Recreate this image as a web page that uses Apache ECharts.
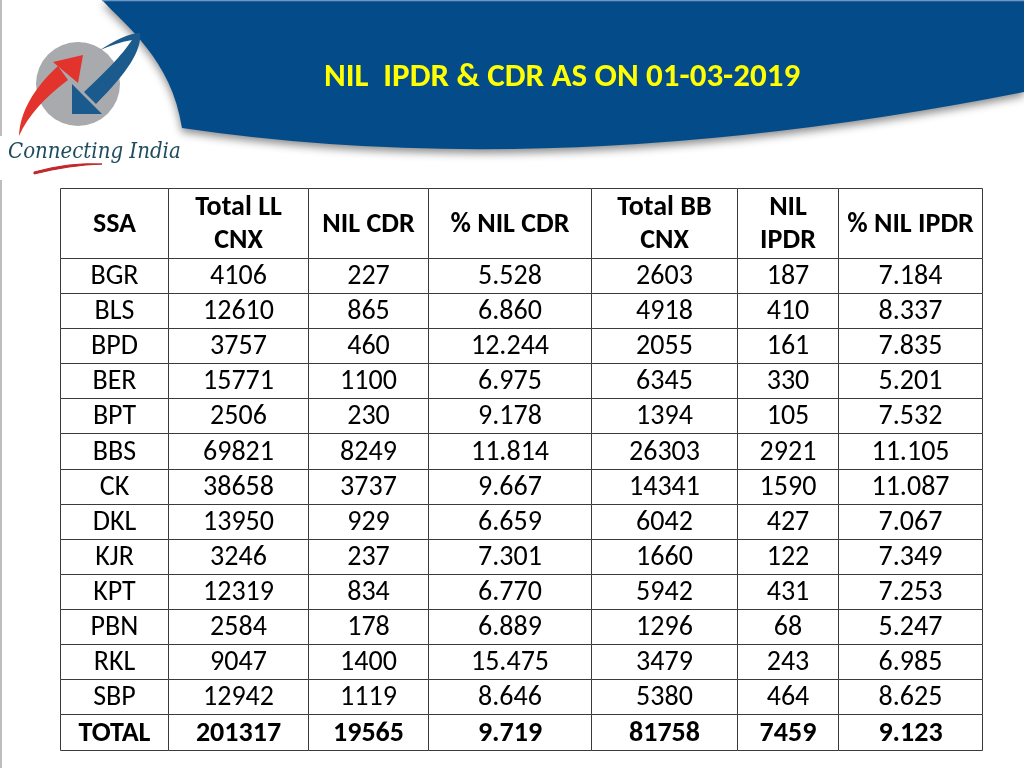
<!DOCTYPE html>
<html>
<head>
<meta charset="utf-8">
<script src="https://cdn.jsdelivr.net/npm/echarts@6/dist/echarts.min.js"></script>
<style>
html,body{margin:0;padding:0;background:#fff;}
#main{width:1024px;height:768px;}
</style>
</head>
<body>
<div id="main"></div>
<script>
// ---- data ----
const headers = ['SSA', 'Total LL\nCNX', 'NIL CDR', '% NIL CDR', 'Total BB\nCNX', 'NIL\nIPDR', '% NIL IPDR'];
const ssa = ['BGR','BLS','BPD','BER','BPT','BBS','CK','DKL','KJR','KPT','PBN','RKL','SBP','TOTAL'];
const totalLL = [4106,12610,3757,15771,2506,69821,38658,13950,3246,12319,2584,9047,12942,201317];
const nilCDR = [227,865,460,1100,230,8249,3737,929,237,834,178,1400,1119,19565];
const pctNilCDR = [5.528,6.860,12.244,6.975,9.178,11.814,9.667,6.659,7.301,6.770,6.889,15.475,8.646,9.719];
const totalBB = [2603,4918,2055,6345,1394,26303,14341,6042,1660,5942,1296,3479,5380,81758];
const nilIPDR = [187,410,161,330,105,2921,1590,427,122,431,68,243,464,7459];
const pctNilIPDR = [7.184,8.337,7.835,5.201,7.532,11.105,11.087,7.067,7.349,7.253,5.247,6.985,8.625,9.123];
const titleText = 'NIL  IPDR & CDR AS ON 01-03-2019';

// ---- layout (column boundaries in x-axis units) ----
const colEdges = [0, 107.5, 247.7, 367.7, 530.5, 676.7, 778.3, 922];
const headerRows = 2;

const FONT = 'Carlito, Lato, sans-serif';

// build cells
const cells = [];
headers.forEach((h, c) => cells.push({value: [c, 0, headerRows], text: h, bold: true}));
const columns = [
  ssa,
  totalLL.map(String),
  nilCDR.map(String),
  pctNilCDR.map(v => v.toFixed(3)),
  totalBB.map(String),
  nilIPDR.map(String),
  pctNilIPDR.map(v => v.toFixed(3))
];
ssa.forEach((s, r) => {
  const isTotal = s === 'TOTAL';
  columns.forEach((col, c) => {
    cells.push({value: [c, headerRows + r, headerRows + r + 1], text: col[r], bold: isTotal});
  });
});

const chart = echarts.init(document.getElementById('main'), null, {renderer: 'canvas'});

function decoration() {
  return {
    type: 'group',
    children: [
      {type: 'line', shape: {x1: 1, y1: 0, x2: 1, y2: 136}, style: {stroke: '#bdbdbd', lineWidth: 2}},
      {type: 'line', shape: {x1: 1, y1: 180, x2: 1, y2: 768}, style: {stroke: '#bdbdbd', lineWidth: 2}},
      {type: 'path', shape: {pathData: 'M102,0 C125,25 172,60 182,128 Q560,184 1024,92 L1024,0 Z'},
       style: {fill: '#044c89', shadowColor: 'rgba(0,0,0,0.45)', shadowBlur: 8, shadowOffsetY: 4}},
      {type: 'line', shape: {x1: 102, y1: 0.5, x2: 1024, y2: 0.5}, style: {stroke: '#6f96c2', lineWidth: 1.5}},
      {type: 'text', x: 562, y: 78,
       style: {text: titleText, fill: '#ffff00', font: 'bold 33px ' + FONT, align: 'center', verticalAlign: 'middle'}},
      {type: 'circle', shape: {cx: 78, cy: 84, r: 42}, style: {fill: '#a9aaad'}},
      {type: 'path', shape: {pathData: 'M19,136 C20,112 34,88 58,66 L68,80 C44,98 28,116 19,136 Z'}, style: {fill: '#e2332c'}},
      {type: 'path', shape: {pathData: 'M53,62 L83,55 L78,83 Z'}, style: {fill: '#e2332c'}},
      {type: 'path', shape: {pathData: 'M100,50 C115,40 130,33 140,33 C142,50 128,72 96,104 L84,92 C112,66 124,52 132,40 C120,42 110,46 100,50 Z'}, style: {fill: '#1b5a8c'}},
      {type: 'path', shape: {pathData: 'M72,84 L72,114 L102,114 Z'}, style: {fill: '#1b5a8c'}},
      {type: 'text', x: 8, y: 152,
       style: {text: 'Connecting India', fill: '#1f4d5e', font: 'italic 22px "DejaVu Serif Condensed", "DejaVu Serif", serif', align: 'left', verticalAlign: 'middle'}},
      {type: 'path', shape: {pathData: 'M34,172 Q70,162 102,164 Q70,165 34,174 Z'}, style: {fill: '#c0262b', stroke: '#c0262b', lineWidth: 1}}
    ]
  };
}

const option = {
  backgroundColor: '#fff',
  animation: false,
  grid: {left: 60, right: 42, top: 187.5, bottom: 18.5},
  xAxis: {type: 'value', min: 0, max: 922, show: false},
  yAxis: {type: 'value', min: 0, max: headerRows + ssa.length, inverse: true, show: false},
  series: [{
    type: 'custom',
    coordinateSystem: 'none',
    silent: true,
    z: 1,
    data: [0],
    renderItem: function () { return decoration(); }
  }, {
    type: 'custom',
    coordinateSystem: 'cartesian2d',
    clip: false,
    silent: true,
    z: 2,
    data: cells,
    renderItem: function (params, api) {
      const cell = cells[params.dataIndex];
      const c = api.value(0);
      const p0 = api.coord([colEdges[c], api.value(1)]);
      const p1 = api.coord([colEdges[c + 1], api.value(2)]);
      const x0 = Math.round(p0[0]) + 0.5, y0 = Math.round(p0[1]) + 0.5;
      const x1 = Math.round(p1[0]) + 0.5, y1 = Math.round(p1[1]) + 0.5;
      return {
        type: 'group',
        children: [
          {type: 'rect', shape: {x: x0, y: y0, width: x1 - x0, height: y1 - y0},
           style: {fill: '#fff', stroke: '#3a3a3a', lineWidth: 1}},
          {type: 'text', x: (x0 + x1) / 2, y: (y0 + y1) / 2 + 1,
           style: {text: cell.text, fill: '#000', align: 'center', verticalAlign: 'middle',
                   font: (cell.bold ? 'bold ' : '') + '28px ' + FONT, lineHeight: 33}}
        ]
      };
    }
  }]
};
chart.setOption(option);
</script>
</body>
</html>
